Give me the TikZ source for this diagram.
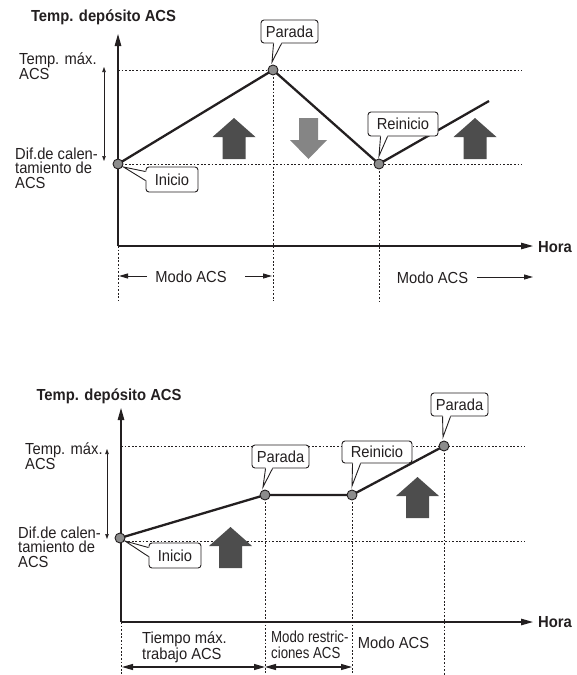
\documentclass[tikz,border=0pt]{standalone}
\usepackage{fontspec}
\setmainfont{Liberation Sans}[FakeStretch=0.92]
\newfontfamily\titlefont{Liberation Sans}[FakeStretch=0.925]
\usetikzlibrary{arrows.meta,calc}
\definecolor{ink}{HTML}{231F20}
\definecolor{ptgray}{HTML}{8C8C8C}
\definecolor{arrdark}{HTML}{4D4D4D}
\definecolor{arrlight}{HTML}{858585}
\begin{document}
\begin{tikzpicture}[x=1pt,y=-1pt,
  every node/.style={font=\fontsize{16}{14.5}\selectfont, inner sep=0pt, text=ink},
  titletext/.style={font=\fontsize{16}{14.5}\selectfont\titlefont\bfseries},
  axisline/.style={draw=ink, line width=1.2pt, -{Triangle[length=12pt,width=6.5pt]}},
  guideline/.style={draw=ink, line width=0.9pt, dash pattern=on 1.8pt off 1.8pt},
  heatline/.style={draw=ink, line width=2.3pt, line join=miter},
  ptdot/.style={circle, draw=ink, fill=ptgray, line width=0.9pt, minimum size=10pt},
  cbox/.style={draw=ink, fill=white, rounded corners=3pt, line width=0.9pt},
  ptrside/.style={draw=ink, line width=0.9pt},
  spanarrow/.style={draw=ink, line width=0.9pt, -{Triangle[length=9pt,width=5pt]}},
  twospan/.style={draw=ink, line width=1.2pt, {Triangle[length=11pt,width=6pt]}-{Triangle[length=11pt,width=6pt]}},
  tempspan/.style={draw=ink, line width=0.6pt, {Triangle[length=5pt,width=3.5pt]}-{Triangle[length=5pt,width=3.5pt]}},
  lbl/.style={align=left, anchor=west},
  blockup/.pic={\fill[arrdark] (0,0) -- (21.5,19) -- (11.5,19) -- (11.5,41) -- (-11.5,41) -- (-11.5,19) -- (-21.5,19) -- cycle;},
  blockdown/.pic={\fill[arrlight] (0,0) -- (18.5,-19) -- (9.5,-19) -- (9.5,-41) -- (-9.5,-41) -- (-9.5,-19) -- (-18.5,-19) -- cycle;}
]
\useasboundingbox (0,0) rectangle (577,675);

% ================= TOP CHART =================
\node[titletext] (title1) at (103.5,17) {Temp. depósito ACS};
\coordinate (o1) at (118,246);
\coordinate (ytop1) at (118,34);
\coordinate (xend1) at (533,246);
\node[titletext, anchor=west] (hora1) at (538,247) {Hora};

\coordinate (a0) at (118,164);
\coordinate (a1) at (273,70);
\coordinate (a2) at (379,164);
\coordinate (a3) at (489,101);
\coordinate (gmax1) at (522,70);
\coordinate (gmin1) at (522,164);
\coordinate (gmaxs1) at (118,70);
\draw[guideline] (gmaxs1) -- (gmax1);
\draw[guideline] (a0) -- (gmin1);
\coordinate (v1a) at (273,301);
\coordinate (v1b) at (379,301);
\coordinate (v1o) at (118,301);
\draw[guideline] (a1) -- (v1a);
\draw[guideline] (a2) -- (v1b);
\draw[guideline] (o1) -- (v1o);

\draw[axisline] (o1) -- (ytop1);
\draw[axisline] (o1) -- (xend1);

\coordinate (r1t) at (104,67);
\coordinate (r1b) at (104,161);
\draw[tempspan] (r1t) -- (r1b);

\pic at (234,118) {blockup};
\pic at (308.5,159) {blockdown};
\pic at (475,118) {blockup};

\draw[heatline] (a0) -- (a1) -- (a2) -- (a3);
\node[ptdot] (p0) at (a0) {};
\node[ptdot] (p1) at (a1) {};
\node[ptdot] (p2) at (a2) {};

\node[lbl] (tmax1) at (19,66) {Temp. máx.\\ACS};
\node[lbl] (dif1) at (15,168) {Dif.de calen-\\tamiento de\\ACS};

\node[cbox, minimum width=57pt, minimum height=23pt] (c1) at (289.5,31.5) {Parada};
\fill[white] ($(c1.south west)+(13,-1.3)$) -- ($(p1)+(-1,-8)$) -- ($(c1.south west)+(21,-1.3)$) -- cycle;
\draw[ptrside] ($(c1.south west)+(13,0)$) -- ($(p1)+(-1,-8)$) -- ($(c1.south west)+(21,0)$);

\node[cbox, minimum width=70pt, minimum height=24pt] (c2) at (403,124) {Reinicio};
\fill[white] ($(c2.south west)+(13,-1.3)$) -- ($(p2)+(0,-8)$) -- ($(c2.south west)+(20,-1.3)$) -- cycle;
\draw[ptrside] ($(c2.south west)+(13,0)$) -- ($(p2)+(0,-8)$) -- ($(c2.south west)+(20,0)$);

\node[cbox, minimum width=52pt, minimum height=25pt] (c3) at (172,179.5) {Inicio};
\fill[white] ($(c3.north west)+(1.3,5)$) -- ($(p0)+(5.5,3)$) -- ($(c3.north west)+(1.3,14)$) -- cycle;
\draw[ptrside] ($(c3.north west)+(0,5)$) -- ($(p0)+(5.5,3)$) -- ($(c3.north west)+(0,14)$);

\node (m1) at (191,277) {Modo ACS};
\coordinate (m1l) at (147,276);
\coordinate (m1lt) at (119,276);
\coordinate (m1r) at (245,276);
\coordinate (m1rt) at (272,276);
\draw[spanarrow] (m1l) -- (m1lt);
\draw[spanarrow] (m1r) -- (m1rt);
\node (m2) at (432.5,278) {Modo ACS};
\coordinate (m2r) at (477,277);
\coordinate (m2rt) at (533,277);
\draw[spanarrow] (m2r) -- (m2rt);

% ================= BOTTOM CHART =================
\node[titletext] (title2) at (109,396) {Temp. depósito ACS};
\coordinate (o2) at (121,622);
\coordinate (ytop2) at (121,408);
\coordinate (xend2) at (533,622);
\node[titletext, anchor=west] (hora2) at (538,622) {Hora};

\coordinate (b0) at (120,538);
\coordinate (b1) at (265,495);
\coordinate (b2) at (352,495);
\coordinate (b3) at (444,446);
\coordinate (hmaxs) at (121,446);
\coordinate (hmaxe) at (525,446);
\coordinate (hmins) at (121,541);
\coordinate (hmine) at (525,541);
\draw[guideline] (hmaxs) -- (hmaxe);
\draw[guideline] (hmins) -- (hmine);
\coordinate (w0) at (121,675);
\coordinate (w1) at (265,675);
\coordinate (w2) at (352,675);
\coordinate (w3) at (444,675);
\draw[guideline] (o2) -- (w0);
\draw[guideline] (b1) -- (w1);
\draw[guideline] (b2) -- (w2);
\draw[guideline] (b3) -- (w3);

\draw[axisline] (o2) -- (ytop2);
\draw[axisline] (o2) -- (xend2);

\coordinate (r2t) at (107,449);
\coordinate (r2b) at (107,539);
\draw[tempspan] (r2t) -- (r2b);

\pic at (230.5,527) {blockup};
\pic at (417.5,477) {blockup};

\draw[heatline] (b0) -- (b1) -- (b2) -- (b3);
\node[ptdot] (q0) at (b0) {};
\node[ptdot] (q1) at (b1) {};
\node[ptdot] (q2) at (b2) {};
\node[ptdot] (q3) at (b3) {};

\node[lbl] (tmax2) at (25,456) {Temp. máx.\\ACS};
\node[lbl] (dif2) at (18,547) {Dif.de calen-\\tamiento de\\ACS};

\node[cbox, minimum width=57pt, minimum height=23pt] (d1) at (280.5,456.5) {Parada};
\fill[white] ($(d1.south west)+(14,-1.3)$) -- ($(q1)+(-2,-8)$) -- ($(d1.south west)+(21,-1.3)$) -- cycle;
\draw[ptrside] ($(d1.south west)+(14,0)$) -- ($(q1)+(-2,-8)$) -- ($(d1.south west)+(21,0)$);

\node[cbox, minimum width=70pt, minimum height=22pt] (d2) at (377,452) {Reinicio};
\fill[white] ($(d2.south west)+(11,-1.3)$) -- ($(q2)+(0,-9)$) -- ($(d2.south west)+(19,-1.3)$) -- cycle;
\draw[ptrside] ($(d2.south west)+(11,0)$) -- ($(q2)+(0,-9)$) -- ($(d2.south west)+(19,0)$);

\node[cbox, minimum width=57pt, minimum height=23pt] (d3) at (459.5,404.5) {Parada};
\fill[white] ($(d3.south west)+(12,-1.3)$) -- ($(q3)+(-1,-9)$) -- ($(d3.south west)+(20,-1.3)$) -- cycle;
\draw[ptrside] ($(d3.south west)+(12,0)$) -- ($(q3)+(-1,-9)$) -- ($(d3.south west)+(20,0)$);

\node[cbox, minimum width=52pt, minimum height=25pt] (d4) at (175,555.5) {Inicio};
\fill[white] ($(d4.north west)+(1.3,5)$) -- ($(q0)+(5,3)$) -- ($(d4.north west)+(1.3,14)$) -- cycle;
\draw[ptrside] ($(d4.north west)+(0,5)$) -- ($(q0)+(5,3)$) -- ($(d4.north west)+(0,14)$);

\node[lbl] (tt) at (142,647) {Tiempo máx.\\trabajo ACS};
\node[lbl] (mr) at (271,647) {\scalebox{0.9}[1]{\begin{tabular}{@{}l@{}}Modo restric-\\ciones ACS\end{tabular}}};
\node (m3) at (393.5,643) {Modo ACS};
\coordinate (s0) at (122,667);
\coordinate (s1) at (265,667);
\coordinate (s2) at (352,667);
\draw[twospan] (s0) -- (s1);
\draw[twospan] (s1) -- (s2);
\end{tikzpicture}
\end{document}
